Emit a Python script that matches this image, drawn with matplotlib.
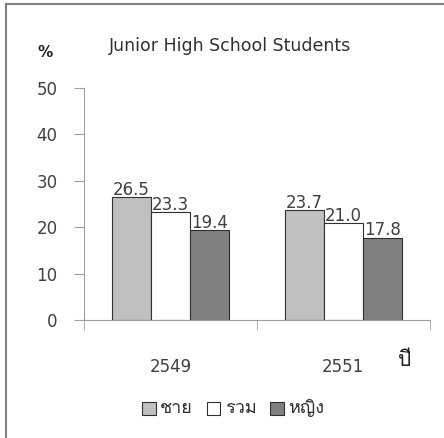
import numpy as np
import matplotlib
matplotlib.use("Agg")
import matplotlib.pyplot as plt
from matplotlib import font_manager
from matplotlib.ft2font import FT2Font
from matplotlib.patches import Rectangle

# data
years = ["2549", "2551"]
groups = ["ชาย", "รวม", "หญิง"]
male = [26.5, 23.7]
total = [23.3, 21.0]
female = [19.4, 17.8]
colors = ["#C0C0C0", "#FFFFFF", "#808080"]

# find a regular-weight font that has Thai glyphs
thai_fonts = []
for f in font_manager.fontManager.ttflist:
    try:
        if 0x0E0A in FT2Font(f.fname).get_charmap():
            thai_fonts.append(f)
    except Exception:
        pass

regular = [f for f in thai_fonts
           if f.weight in (400, "normal", "regular") and f.style == "normal"]
pick = regular[0] if regular else (thai_fonts[0] if thai_fonts else None)

if pick:
    tp = font_manager.FontProperties(fname=pick.fname)
else:
    tp = font_manager.FontProperties(family="DejaVu Sans")

fig = plt.figure(figsize=(4.44, 4.38), dpi=100)
ax = fig.add_axes([0.189, 0.269, 0.779, 0.530])

x = np.arange(len(years))
w = 0.225
series = [male, total, female]
for i, vals in enumerate(series):
    pos = x + (i - 1) * w
    ax.bar(pos, vals, w, color=colors[i], edgecolor="#303030", linewidth=0.8,
           label=groups[i])
    for p, v in zip(pos, vals):
        ax.text(p, v - 0.4, f"{v:.1f}", ha="center", va="bottom",
                fontsize=12, color="#404040")

ax.set_xlim(-0.5, 1.5)
ax.set_ylim(0, 50)
ax.set_yticks(range(0, 51, 10))
ax.set_xticks(x)
ax.set_xticklabels(years)
ax.set_xticks([-0.5, 0.5, 1.5], minor=True)
ax.tick_params(axis="x", which="major", length=0, pad=27, labelsize=12,
               labelcolor="#404040")
ax.tick_params(axis="x", which="minor", length=7, color="#A0A0A0")
ax.tick_params(axis="y", length=7, color="#A0A0A0", labelsize=12,
               labelcolor="#404040", pad=12)
for s in ["top", "right"]:
    ax.spines[s].set_visible(False)
for s in ["left", "bottom"]:
    ax.spines[s].set_color("#A0A0A0")

fig.text(0.519, 0.895, "Junior High School Students", ha="center", va="center",
         fontsize=12.5, color="#303030")
fig.text(0.102, 0.88, "%", ha="center", va="center", fontsize=11,
         fontweight="bold", color="#202020")
fig.text(0.912, 0.178, "ปี", ha="center", va="center", fontsize=15,
         fontproperties=tp, color="#202020")

leg = fig.legend(loc="center", bbox_to_anchor=(0.525, 0.068), ncol=3,
                 frameon=False, handlelength=1.0, handleheight=1.0,
                 handletextpad=0.3, columnspacing=1.0, prop=tp)
for t in leg.get_texts():
    t.set_fontsize(13)
    t.set_color("#303030")

fig.add_artist(Rectangle((0.0146, -0.1), 1.2, 1.0914, transform=fig.transFigure,
                         fill=False, edgecolor="#808080", linewidth=1.5))

fig.savefig("out.png", dpi=100)
